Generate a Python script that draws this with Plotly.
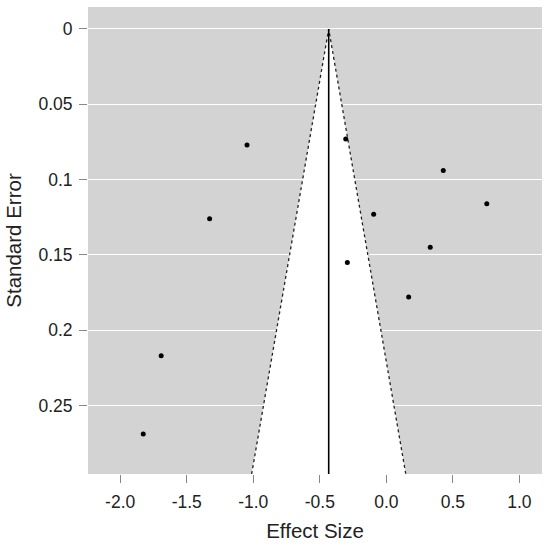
import plotly.graph_objects as go

# Study data
effect_size = [-1.047, -1.328, -0.305, 0.428, 0.755, -0.095, 0.330, -0.293, 0.168, -1.692, -1.827]
std_error = [0.077, 0.126, 0.073, 0.094, 0.116, 0.123, 0.145, 0.155, 0.178, 0.217, 0.269]

# Summary estimate and funnel extent
pooled_estimate = -0.433
se_max = 0.2955
z_crit = 1.96

x_tickvals = [-2.0, -1.5, -1.0, -0.5, 0.0, 0.5, 1.0]
x_ticktext = ["-2.0", "-1.5", "-1.0", "-0.5", "0.0", "0.5", "1.0"]
y_tickvals = [0, 0.05, 0.1, 0.15, 0.2, 0.25]
y_ticktext = ["0", "0.05", "0.1", "0.15", "0.2", "0.25"]

left_x = pooled_estimate - z_crit * se_max
right_x = pooled_estimate + z_crit * se_max

fig = go.Figure()
# white funnel region
fig.add_trace(go.Scatter(
    x=[left_x, pooled_estimate, right_x, left_x],
    y=[se_max, 0, se_max, se_max],
    fill="toself", fillcolor="white", mode="none", hoverinfo="skip",
))
# dotted funnel boundaries
fig.add_trace(go.Scatter(
    x=[left_x, pooled_estimate, right_x],
    y=[se_max, 0, se_max],
    mode="lines", line=dict(color="#222222", width=1.3, dash="dot"),
))
# vertical line at estimate
fig.add_trace(go.Scatter(
    x=[pooled_estimate, pooled_estimate], y=[0, se_max],
    mode="lines", line=dict(color="black", width=1.6),
))
# study points
fig.add_trace(go.Scatter(
    x=effect_size, y=std_error, mode="markers",
    marker=dict(color="black", size=5),
))

font_family = "Liberation Sans, Arial, sans-serif"
fig.update_layout(
    width=550, height=546,
    margin=dict(l=88, r=8, t=7, b=72),
    plot_bgcolor="#d3d3d3", paper_bgcolor="white",
    showlegend=False,
    font=dict(family=font_family, size=17.5, color="#222222"),
)
fig.update_xaxes(
    range=[-2.242, 1.170], tickvals=x_tickvals, ticktext=x_ticktext,
    showgrid=False, zeroline=False, showline=False, automargin=False,
    ticks="outside", ticklen=8, tickcolor="#888888", tickwidth=1,
    tickfont=dict(size=17.5), ticklabelstandoff=4,
    title=dict(text="Effect Size", font=dict(size=20.5), standoff=12),
)
fig.update_yaxes(
    range=[0.2955, -0.0146], tickvals=y_tickvals, ticktext=y_ticktext,
    showgrid=True, gridcolor="white", gridwidth=1.2, zeroline=False, showline=False,
    automargin=False,
    ticks="outside", ticklen=8, tickcolor="#888888", tickwidth=1,
    tickfont=dict(size=17.5), ticklabelstandoff=3,
    title=dict(text="Standard Error", font=dict(size=20.5), standoff=11),
)

fig.write_html("out.html", config={"displayModeBar": False},
               post_script="document.body.style.margin='0';")
